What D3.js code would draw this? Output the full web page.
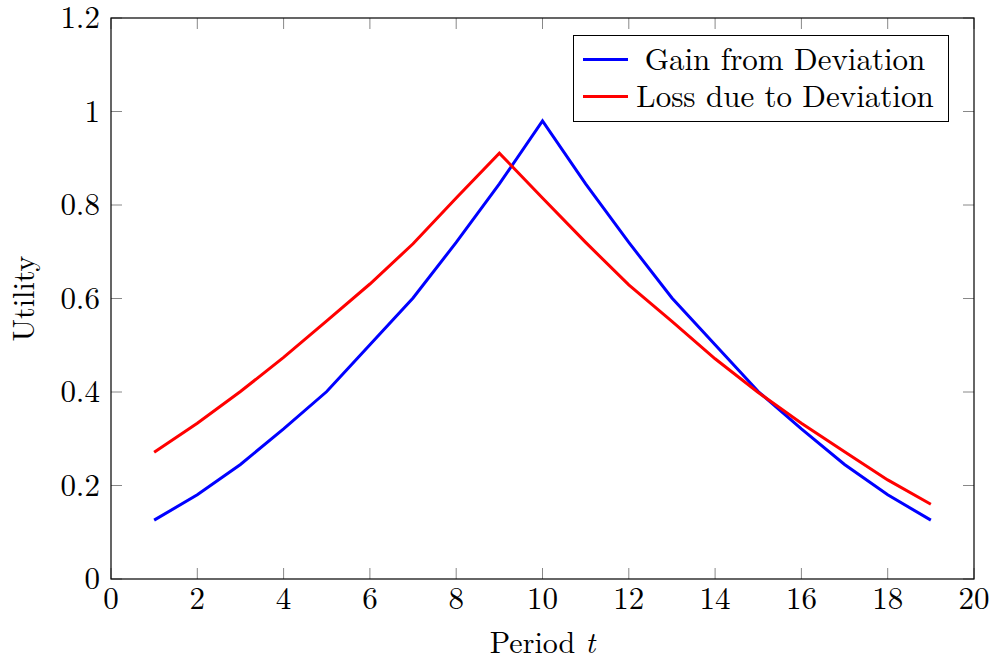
<!DOCTYPE html>
<html>
<head>
<meta charset="utf-8">
<script src="https://cdn.jsdelivr.net/npm/d3@7"></script>
<style>
body{margin:0;background:#fff;}
text{font-family:"Latin Modern Roman","CMU Serif","Liberation Serif",serif;fill:#000;}
</style>
</head>
<body>
<div class="main"></div>
<script>
var periods=[1,2,3,4,5,6,7,8,9,10,11,12,13,14,15,16,17,18,19];
var gain=[0.126,0.18,0.245,0.321,0.401,0.501,0.601,0.72,0.845,0.98,0.845,0.72,0.601,0.501,0.401,0.321,0.245,0.18,0.126];
var loss=[0.271,0.333,0.401,0.474,0.552,0.631,0.717,0.815,0.911,0.815,0.72,0.629,0.551,0.471,0.399,0.333,0.272,0.212,0.16];
var xTicks=[0,2,4,6,8,10,12,14,16,18,20];
var yTicks=[0,0.2,0.4,0.6,0.8,1,1.2];
var seriesNames=['Gain from Deviation','Loss due to Deviation'];
var seriesColors=['#0000ff','#ff0000'];

var margin={top:18,right:21,left:111,bottom:81};
var width=995-margin.left-margin.right;
var height=660-margin.top-margin.bottom;

var svg=d3.select('.main').append('svg')
    .attr('width',995)
    .attr('height',660);
var g=svg.append('g').attr('transform','translate('+margin.left+','+margin.top+')');

var x=d3.scaleLinear().domain([0,20]).range([0,width]);
var y=d3.scaleLinear().domain([0,1.2]).range([height,0]);

// ticks (inward, all four sides)
var tickLen=11;
xTicks.forEach(function(t){
  g.append('line').attr('x1',x(t)).attr('x2',x(t)).attr('y1',height).attr('y2',height-tickLen)
    .attr('stroke','#888').attr('stroke-width',1);
  g.append('line').attr('x1',x(t)).attr('x2',x(t)).attr('y1',0).attr('y2',tickLen)
    .attr('stroke','#888').attr('stroke-width',1);
  g.append('text').attr('x',x(t)).attr('y',height+30)
    .attr('text-anchor','middle').style('font-size','31px').text(t);
});
yTicks.forEach(function(t){
  g.append('line').attr('x1',0).attr('x2',tickLen).attr('y1',y(t)).attr('y2',y(t))
    .attr('stroke','#888').attr('stroke-width',1);
  g.append('line').attr('x1',width).attr('x2',width-tickLen).attr('y1',y(t)).attr('y2',y(t))
    .attr('stroke','#888').attr('stroke-width',1);
  g.append('text').attr('x',-11).attr('y',y(t)).attr('dy','0.33em')
    .attr('text-anchor','end').style('font-size','31px').text(t);
});

// lines
var line=d3.line()
  .x(function(d,i){return x(periods[i]);})
  .y(function(d){return y(d);});
[gain,loss].forEach(function(s,i){
  g.append('path').datum(s)
    .attr('d',line)
    .attr('fill','none')
    .attr('stroke',seriesColors[i])
    .attr('stroke-width',3)
    .attr('stroke-linejoin','miter');
});

// frame
g.append('rect').attr('x',0).attr('y',0).attr('width',width).attr('height',height)
  .attr('fill','none').attr('stroke','#000').attr('stroke-width',1.2);

// axis labels
g.append('text').attr('x',width/2).attr('y',height+74)
  .attr('text-anchor','middle').style('font-size','30px')
  .html('Period <tspan font-style="italic">t</tspan>');
g.append('text')
  .attr('transform','translate('+(-77)+','+(height/2)+') rotate(-90)')
  .attr('text-anchor','middle').style('font-size','30px').text('Utility');

// legend
var legend=svg.append('g').attr('id','legend');
legend.append('rect').attr('x',573.5).attr('y',35.5).attr('width',375).attr('height',86)
  .attr('fill','#fff').attr('stroke','#000').attr('stroke-width',1);
var item=legend.selectAll('.legend-label')
  .data(seriesNames)
  .enter().append('g')
  .attr('class','legend-label')
  .attr('transform',function(d,i){return 'translate(0,'+(59.5+i*37)+')';});
item.append('line').attr('x1',583).attr('x2',628).attr('y1',0).attr('y2',0)
  .attr('stroke',function(d,i){return seriesColors[i];}).attr('stroke-width',3);
item.append('text').attr('x',785).attr('y',0).attr('dy','0.35em')
  .attr('text-anchor','middle').style('font-size','31px').text(function(d){return d;});
</script>
</body>
</html>
